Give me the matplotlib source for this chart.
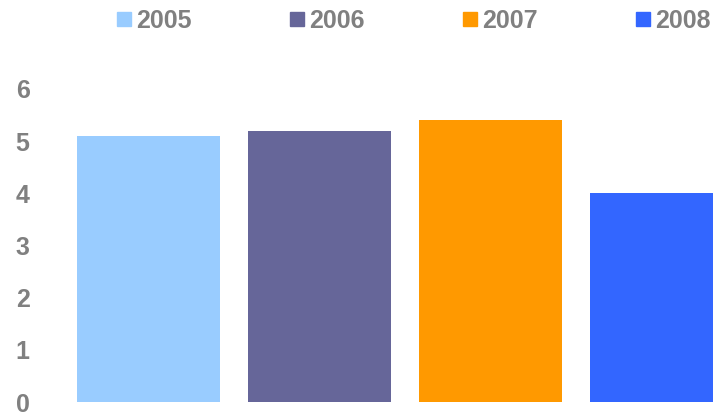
import matplotlib
matplotlib.use("Agg")
import matplotlib.pyplot as plt
from matplotlib.lines import Line2D

years = ["2005", "2006", "2007", "2008"]
values = [5.1, 5.2, 5.4, 4.0]
colors = ["#99CCFF", "#666699", "#FF9900", "#3366FF"]
yticks = [0, 1, 2, 3, 4, 5, 6]

plt.rcParams['font.family'] = ['Liberation Sans', 'DejaVu Sans']
gray = "#808080"
fs = 18

fig = plt.figure(figsize=(7.13, 4.12), dpi=100)
ax = fig.add_axes([63/713, 10/412, 684/713, 313/412])
x = list(range(len(years)))
ax.bar(x, values, width=0.837, color=colors)
ax.set_xlim(-0.5, 3.5)
ax.set_ylim(0, 6)
ax.set_yticks(yticks)
ax.set_yticklabels([str(t) for t in yticks], fontsize=fs, fontweight='bold', color=gray)
ax.set_xticks([])
ax.tick_params(axis='y', length=0, pad=24)
for s in ax.spines.values():
    s.set_visible(False)

handles = [Line2D([], [], marker='s', linestyle='none', markersize=9.5,
                  markerfacecolor=c, markeredgecolor=c) for c in colors]
leg = fig.legend(handles, years, loc='center left', bbox_to_anchor=(117/713, 1 - 21/412),
                 ncol=4, frameon=False, handlelength=0.55, handletextpad=0.2,
                 columnspacing=3.95, borderpad=0, borderaxespad=0,
                 prop={'size': fs, 'weight': 'bold'})
for t in leg.get_texts():
    t.set_color(gray)

fig.savefig("out.png", dpi=100)
